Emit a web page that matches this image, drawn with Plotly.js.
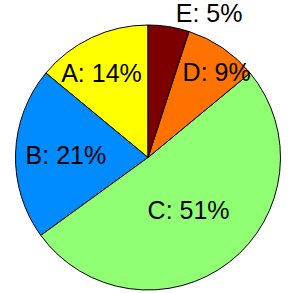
<!DOCTYPE html>
<html><head><meta charset="utf-8">
<script src="https://cdn.plot.ly/plotly-3.0.1.min.js"></script>
<style>html,body{margin:0;padding:0;background:#fff}</style>
</head><body><div id="c" style="width:293px;height:293px"></div>
<script>
const labels = ["A", "B", "C", "D", "E"];
const values = [14, 21, 51, 9, 5];
const colors = ["#FFFF00", "#008CFF", "#90FF74", "#FF7200", "#7C0000"];
const positions = ["inside", "inside", "inside", "inside", "outside"];
const padBefore = ["", "", "", "\u00a0\u00a0\u00a0", ""];
const padAfter = ["\u00a0\u00a0", "", "", "", ""];
const texts = labels.map((l, i) => padBefore[i] + l + ": " + values[i] + "%" + padAfter[i]);
const total = values.reduce((a, b) => a + b, 0);
Plotly.newPlot("c", [{
  type: "pie",
  labels: labels,
  values: values,
  text: texts,
  textinfo: "text",
  textposition: positions,
  sort: false,
  direction: "counterclockwise",
  rotation: -360 * values[0] / total,
  marker: {colors: colors, line: {color: "#000", width: 1}},
  insidetextfont: {family: "Liberation Sans, Arial, sans-serif", size: 25, color: "#000"},
  outsidetextfont: {family: "Liberation Sans, Arial, sans-serif", size: 25, color: "#000"},
  insidetextorientation: "horizontal",
  domain: {x: [15/293, 281/293], y: [3/293, 268/293]},
  hoverinfo: "none",
  automargin: false
}], {
  width: 293, height: 293,
  margin: {l: 0, r: 0, t: 0, b: 0},
  showlegend: false,
  uniformtext: {mode: "show", minsize: 25},
  paper_bgcolor: "#fff"
}, {staticPlot: true});
</script></body></html>
